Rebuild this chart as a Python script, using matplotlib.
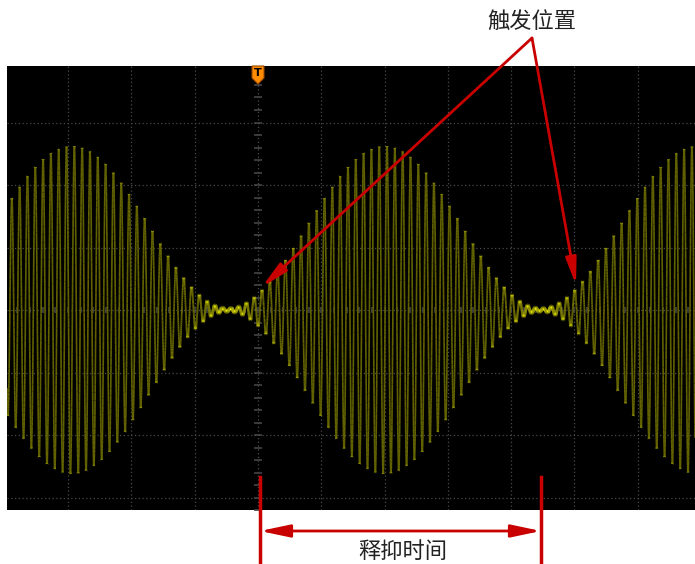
import numpy as np
import matplotlib
matplotlib.use("Agg")
import matplotlib.pyplot as plt
from matplotlib.collections import LineCollection
from matplotlib.patches import Polygon

plt.rcParams['font.family'] = ['Noto Sans CJK SC', 'DejaVu Sans']

# waveform (units: divisions)
env_peak = 2.62          # envelope peak amplitude
env_period = 4.94        # one burst to the next
env_zero = -0.47         # centre of the quiet part
env_floor = 0.03         # residual amplitude in the quiet part
carrier_cycles = 40      # carrier cycles per envelope period
carrier_peak = 0.063     # a carrier crest just after the trigger

x_grid = [-3, -2, -1, 0, 1, 2, 3, 4, 5, 6]
y_grid = [-3, -2, -1, 0, 1, 2, 3]
x_lim = (-3.965, 6.904)
y_lim = (-3.2, 3.904)

label_trig = "触发位置"
label_hold = "释抑时间"

RED = "#c80000"

fig = plt.figure(figsize=(6.95, 5.64), dpi=100)
ax = fig.add_axes([7/695, 54/564, 688/695, 444/564])
ax.set_facecolor("black")
ax.set_xlim(*x_lim)
ax.set_ylim(*y_lim)
ax.set_xticks([])
ax.set_yticks([])
for s in ax.spines.values():
    s.set_visible(False)

# dotted graticule
for gx in x_grid:
    ax.axvline(gx, color="#4a4a4a", lw=0.9, ls=(0, (1, 2)), zorder=1)
for gy in y_grid:
    ax.axhline(gy, color="#4a4a4a", lw=0.9, ls=(0, (1, 2)), zorder=1)

# minor ticks along the centre lines
ty = np.arange(-16, 20) * 0.2
ax.plot(np.zeros_like(ty), ty, ls="none", marker="_", ms=6, mew=1.2, color="#444444", zorder=1)
tx = np.arange(-19, 35) * 0.2
ax.plot(tx, np.zeros_like(tx), ls="none", marker="|", ms=5, mew=1.2, color="#444444", zorder=1)

# AM signal, brightness graded by trace speed like a persistence display
t = np.linspace(x_lim[0], x_lim[1], 9000)
env = env_floor + (env_peak - env_floor) * (1 - np.cos(2 * np.pi * (t - env_zero) / env_period)) / 2
car = np.cos(2 * np.pi * (t - carrier_peak) * carrier_cycles / env_period)
y = env * car
pts = np.column_stack([t, y]).reshape(-1, 1, 2)
segs = np.concatenate([pts[:-1], pts[1:]], axis=1)
slope = np.abs(np.diff(y) / np.diff(t))
b = 1 / (1 + (slope / 5) ** 2)
cols = np.zeros((len(b), 4))
cols[:, 0] = 0.38 + 0.62 * b
cols[:, 1] = 0.38 + 0.62 * b
cols[:, 2] = 0.0
cols[:, 3] = 1.0
lws = 1.2 + 1.6 * b
lc = LineCollection(segs, colors=cols, linewidths=lws, zorder=3)
ax.add_collection(lc)

# overlay in pixel coordinates for the annotations
ov = fig.add_axes([0, 0, 1, 1])
ov.set_xlim(0, 695)
ov.set_ylim(564, 0)
ov.set_facecolor("none")
ov.axis("off")

# trigger marker
ov.add_patch(Polygon([(252, 66), (264, 66), (264, 78), (258, 84), (252, 78)],
                     closed=True, facecolor="#ff8c00", edgecolor="#9a4a00", lw=0.8, zorder=5))
ov.text(258, 73.5, "T", ha="center", va="center", fontsize=8, fontweight="bold",
        color="black", family="DejaVu Sans", zorder=6)

# trigger position arrows
for tip in [(262, 287), (576, 285)]:
    ov.annotate("", xy=tip, xytext=(532, 38),
                arrowprops=dict(arrowstyle="-|>,head_length=1.6,head_width=0.32",
                                mutation_scale=10, color=RED, lw=2, shrinkA=0, shrinkB=0))
ov.text(532, 22, label_trig, ha="center", va="center", fontsize=16, color="#222222")

# holdoff time
ov.plot([260, 260], [477, 564], color=RED, lw=2.5)
ov.plot([541, 541], [477, 564], color=RED, lw=2.5)
ov.annotate("", xy=(541, 531), xytext=(260, 531),
            arrowprops=dict(arrowstyle="<|-|>,head_length=1.8,head_width=0.38",
                            mutation_scale=10, color=RED, lw=2, shrinkA=0, shrinkB=0))
ov.text(403, 552, label_hold, ha="center", va="center", fontsize=16, color="#222222")

fig.savefig("out.png", dpi=100, facecolor="white")
